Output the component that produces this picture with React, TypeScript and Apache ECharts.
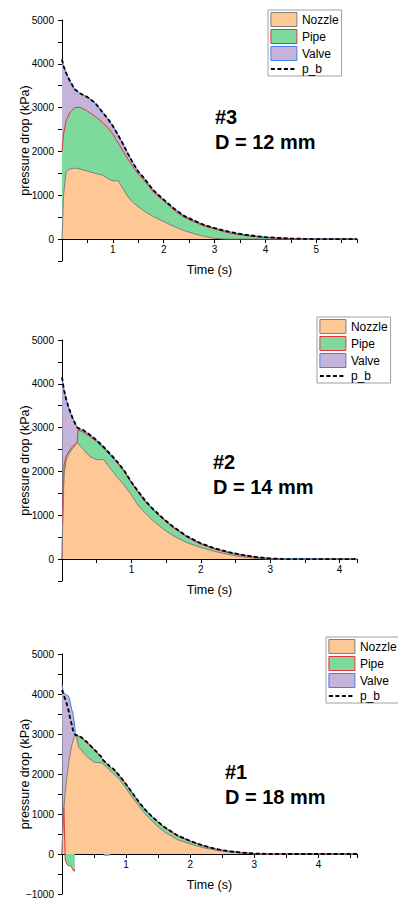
import React, { useEffect, useRef } from 'react';
import * as echarts from 'echarts';

// ---------- Panel #3 (D = 12 mm) ----------
const t1 = [0, 0.03, 0.08, 0.15, 0.25, 0.35, 0.5, 0.65, 0.8, 0.9, 1.0, 1.05, 1.1, 1.2, 1.3, 1.4, 1.5, 1.6, 1.8, 2.0, 2.2, 2.4, 2.6, 2.8, 3.0, 3.2, 3.4, 3.6, 3.8, 4.0, 4.2, 4.5, 4.8, 5.0, 5.3, 5.8];
const nozzleTop1 = [0, 1000, 1530, 1600, 1620, 1600, 1550, 1500, 1460, 1380, 1330, 1330, 1340, 1150, 960, 830, 740, 650, 510, 400, 290, 195, 120, 60, 20, 0, 0, 0, 0, 0, 0, 0, 0, 0, 0, 0];
const pipeTop1 = [2000, 2400, 2700, 2880, 3000, 3010, 2920, 2800, 2660, 2540, 2400, 2300, 2210, 2010, 1820, 1640, 1480, 1360, 1070, 870, 660, 500, 390, 300, 230, 165, 115, 80, 55, 35, 20, 8, -5, -10, 0, 0];
const valveTop1 = [4100, 3950, 3800, 3620, 3420, 3330, 3240, 3110, 2890, 2750, 2580, 2480, 2380, 2170, 1940, 1730, 1540, 1410, 1110, 900, 700, 530, 420, 320, 250, 190, 140, 100, 70, 45, 30, 15, 8, 8, 8, 5];
const pb1 = [4100, 3950, 3800, 3620, 3420, 3330, 3240, 3110, 2890, 2750, 2580, 2480, 2380, 2170, 1940, 1730, 1540, 1410, 1110, 900, 700, 530, 420, 320, 250, 190, 140, 100, 70, 45, 30, 15, 5, 0, 0, 0];

// ---------- Panel #2 (D = 14 mm) ----------
const t2 = [0, 0.01, 0.03, 0.06, 0.1, 0.15, 0.2, 0.22, 0.23, 0.3, 0.4, 0.5, 0.6, 0.7, 0.8, 0.9, 1.0, 1.1, 1.2, 1.3, 1.4, 1.5, 1.6, 1.8, 2.0, 2.2, 2.4, 2.6, 2.8, 3.0, 3.2, 3.5, 3.8, 4.0, 4.25];
const nozzleTop2 = [0, 800, 1950, 2250, 2400, 2520, 2620, 2650, 2640, 2520, 2340, 2270, 2270, 2060, 1860, 1680, 1460, 1220, 1050, 890, 760, 640, 535, 375, 265, 175, 105, 50, 15, 0, 0, 0, 0, 0, 0];
const pipeTop2 = [0, 1000, 2150, 2350, 2460, 2560, 2640, 2660, 2950, 2900, 2800, 2680, 2530, 2360, 2190, 1990, 1735, 1515, 1305, 1140, 990, 850, 720, 500, 340, 225, 145, 85, 40, 10, -10, -10, -5, -5, 0];
const valveTop2 = [4150, 4050, 3850, 3650, 3440, 3230, 3060, 3010, 2990, 2950, 2840, 2710, 2560, 2390, 2215, 2010, 1760, 1540, 1330, 1160, 1010, 870, 740, 520, 360, 245, 160, 95, 45, 15, 10, 10, 5, 5, 0];
const pb2 = [4150, 4050, 3850, 3650, 3440, 3230, 3060, 3010, 2990, 2950, 2840, 2710, 2560, 2390, 2215, 2010, 1760, 1540, 1330, 1160, 1010, 870, 740, 520, 360, 245, 160, 95, 45, 15, 0, 0, 0, 0, 0];

// ---------- Panel #1 (D = 18 mm) ----------
const t3 = [0, 0.01, 0.02, 0.03, 0.05, 0.07, 0.1, 0.12, 0.15, 0.17, 0.19, 0.2, 0.205, 0.21, 0.23, 0.26, 0.3, 0.35, 0.4, 0.5, 0.6, 0.62, 0.65, 0.7, 0.75, 0.78, 0.8, 0.9, 1.0, 1.1, 1.2, 1.3, 1.4, 1.5, 1.6, 1.8, 2.0, 2.2, 2.4, 2.6, 2.8, 3.0, 3.3, 3.6, 4.0, 4.3, 4.6];
const nozzleTop3 = [0, 500, 900, 1150, 1550, 1860, 2220, 2440, 2700, 2830, 2920, 2940, 2950, 2960, 2900, 2680, 2600, 2500, 2420, 2300, 2280, 2275, 2240, 2170, 2080, 2040, 2010, 1860, 1640, 1410, 1200, 1000, 830, 680, 550, 360, 250, 160, 95, 50, 20, 5, 0, 0, 0, 0, 0];
const pipeTop3 = [0, 500, 900, 1150, -150, -230, -300, -280, -330, -400, -430, -380, null, 2960, 2960, 2940, 2910, 2840, 2770, 2610, 2440, 2395, 2320, 2260, 2170, 2140, 2120, 1940, 1735, 1510, 1285, 1095, 930, 790, 660, 455, 315, 205, 120, 65, 32, 10, -10, 0, 0, 0, 0];
const valveTop3 = [4230, 4150, 4080, 4030, 3990, 3980, 3950, 3860, 3620, 3520, 3300, 3150, 3050, 2975, 2970, 2950, 2920, 2850, 2780, 2620, 2450, null, -30, -30, -25, null, 2130, 1950, 1745, 1520, 1295, 1105, 940, 800, 670, 465, 325, 210, 125, 70, 35, 10, 0, 0, 10, 0, 0];
const pb3 = [4100, 4050, 4000, 3950, 3870, 3780, 3600, 3440, 3250, 3100, 3020, 2990, 2980, 2975, 2970, 2950, 2920, 2850, 2780, 2620, 2450, 2420, 2330, 2270, 2180, 2150, 2130, 1950, 1745, 1520, 1295, 1105, 940, 800, 670, 465, 325, 210, 125, 70, 35, 10, 0, 0, 0, 0, 0];

const legendNames = ['Nozzle', 'Pipe', 'Valve', 'p_b'];
const panelLabels = [['#3', 'D = 12 mm'], ['#2', 'D = 14 mm'], ['#1', 'D = 18 mm']];

const FONT = 'Arial, "Liberation Sans", Helvetica, sans-serif';
const NOZZLE_FILL = '#FDC896';
const NOZZLE_EDGE = '#7F7F7F';
const PIPE_FILL = '#7ED99C';
const PIPE_EDGE = '#E8323C';
const VALVE_FILL = '#C5B3DA';
const VALVE_EDGE = '#3C84E8';
const Y_MAX = 5000;

const panels = [
  { t: t1, nozzle: nozzleTop1, pipe: pipeTop1, valve: valveTop1, pb: pb1, xMax: 5.8, yMin: -500, top: 20, height: 241, legendLeft: 268, legendTop: 10, labelX: 215, labelY: 117 },
  { t: t2, nozzle: nozzleTop2, pipe: pipeTop2, valve: valveTop2, pb: pb2, xMax: 4.25, yMin: -500, top: 340, height: 241, legendLeft: 317, legendTop: 317, labelX: 213, labelY: 462 },
  { t: t3, nozzle: nozzleTop3, pipe: pipeTop3, valve: valveTop3, pb: pb3, xMax: 4.6, yMin: -1000, top: 654, height: 240, legendLeft: 326, legendTop: 637, labelX: 225, labelY: 772 },
];

const pairs = (t: number[], v: (number | null)[]) => t.map((x, k) => [x, v[k] === null ? '-' : v[k]]);

function buildOption() {
  const grid = panels.map((p) => ({ left: 62, width: 295, top: p.top, height: p.height }));
  const xAxis = panels.map((p, i) => ({
    type: 'value',
    gridIndex: i,
    min: 0,
    max: p.xMax,
    interval: 0.5,
    // place the whole axis (line, ticks, labels, name) on the y = 0 line
    offset: -(p.height * -p.yMin) / (Y_MAX - p.yMin),
    axisLine: { show: true, onZero: false, lineStyle: { color: '#000', width: 1 } },
    axisTick: { show: true, length: 4, lineStyle: { color: '#000' } },
    axisLabel: {
      fontSize: 10,
      fontFamily: FONT,
      color: '#000',
      margin: 5,
      formatter: (v: number) => (v > 0 && Math.abs(v - Math.round(v)) < 1e-9 ? String(Math.round(v)) : ''),
    },
    splitLine: { show: false },
    name: 'Time (s)',
    nameLocation: 'middle',
    nameGap: 24,
    nameMoveOverlap: false,
    nameTextStyle: { fontSize: 12.5, fontFamily: FONT, color: '#000' },
  }));
  const yAxis = panels.map((p, i) => ({
    type: 'value',
    gridIndex: i,
    min: p.yMin,
    max: Y_MAX,
    interval: 500,
    axisLine: { show: true, onZero: false, lineStyle: { color: '#000', width: 1 } },
    axisTick: { show: true, length: 4, lineStyle: { color: '#000' } },
    axisLabel: {
      fontSize: 10,
      fontFamily: FONT,
      color: '#000',
      margin: 8,
      formatter: (v: number) => (v % 1000 === 0 ? (v < 0 ? '\u2212' + Math.abs(v) : String(v)) : ''),
    },
    splitLine: { show: false },
    name: 'pressure drop (kPa)',
    nameLocation: 'middle',
    nameGap: 31,
    nameMoveOverlap: false,
    nameTextStyle: { fontSize: 12.5, fontFamily: FONT, color: '#000' },
  }));

  const series: any[] = [];
  panels.forEach((p, i) => {
    const base = { type: 'line', xAxisIndex: i, yAxisIndex: i, symbol: 'none', showSymbol: false, silent: true, connectNulls: false };
    series.push({ ...base, name: 'Valve', data: pairs(p.t, p.valve), lineStyle: { color: VALVE_EDGE, width: 1 }, itemStyle: { color: VALVE_FILL }, areaStyle: { color: VALVE_FILL, opacity: 1 } });
    series.push({ ...base, name: 'Pipe', data: pairs(p.t, p.pipe), lineStyle: { color: PIPE_EDGE, width: 1 }, itemStyle: { color: PIPE_FILL }, areaStyle: { color: PIPE_FILL, opacity: 1 } });
    series.push({ ...base, name: 'Nozzle', data: pairs(p.t, p.nozzle), lineStyle: { color: NOZZLE_EDGE, width: 1 }, itemStyle: { color: NOZZLE_FILL }, areaStyle: { color: NOZZLE_FILL, opacity: 1 } });
    series.push({ ...base, name: 'p_b', data: pairs(p.t, p.pb), lineStyle: { color: '#000', width: 1.8, type: [4, 2.5] }, itemStyle: { color: '#000' } });
  });

  const legendItemStyles: any = {
    Nozzle: { icon: 'rect', itemStyle: { color: NOZZLE_FILL, borderColor: NOZZLE_EDGE, borderWidth: 1 } },
    Pipe: { icon: 'rect', itemStyle: { color: PIPE_FILL, borderColor: PIPE_EDGE, borderWidth: 1 } },
    Valve: { icon: 'rect', itemStyle: { color: VALVE_FILL, borderColor: VALVE_EDGE, borderWidth: 1 } },
    p_b: { itemStyle: { color: 'rgba(0,0,0,0)', borderWidth: 0, opacity: 0 }, lineStyle: { color: '#000', width: 1.8, type: [4, 2.5], opacity: 1 } },
  };

  const legend = panels.map((p) => ({
    orient: 'vertical',
    left: p.legendLeft,
    top: p.legendTop,
    itemWidth: 26,
    itemHeight: 14,
    itemGap: 2,
    padding: [2, 3, 1, 2],
    borderColor: '#A0A0A0',
    borderWidth: 1,
    backgroundColor: '#fff',
    selectedMode: false,
    textStyle: { fontSize: 12, fontFamily: FONT, color: '#000' },
    data: legendNames.map((n) => ({ name: n, ...legendItemStyles[n] })),
  }));

  const graphic: any[] = [];
  panels.forEach((p, i) => {
    panelLabels[i].forEach((txt, k) => {
      graphic.push({
        type: 'text',
        x: p.labelX,
        y: p.labelY + k * 25,
        style: { text: txt, fontSize: 20, fontWeight: 'bold', fontFamily: FONT, fill: '#000', verticalAlign: 'middle' },
      });
    });
  });

  return { animation: false, backgroundColor: '#fff', grid, xAxis, yAxis, series, legend, graphic };
}

export default function App() {
  const ref = useRef<HTMLDivElement>(null);
  useEffect(() => {
    if (!ref.current) return;
    const chart = echarts.init(ref.current, undefined, { renderer: 'svg' });
    chart.setOption(buildOption() as any);
    return () => chart.dispose();
  }, []);
  return <div ref={ref} style={{ position: 'fixed', left: 0, top: 0, width: 398, height: 902, background: '#fff' }} />;
}
